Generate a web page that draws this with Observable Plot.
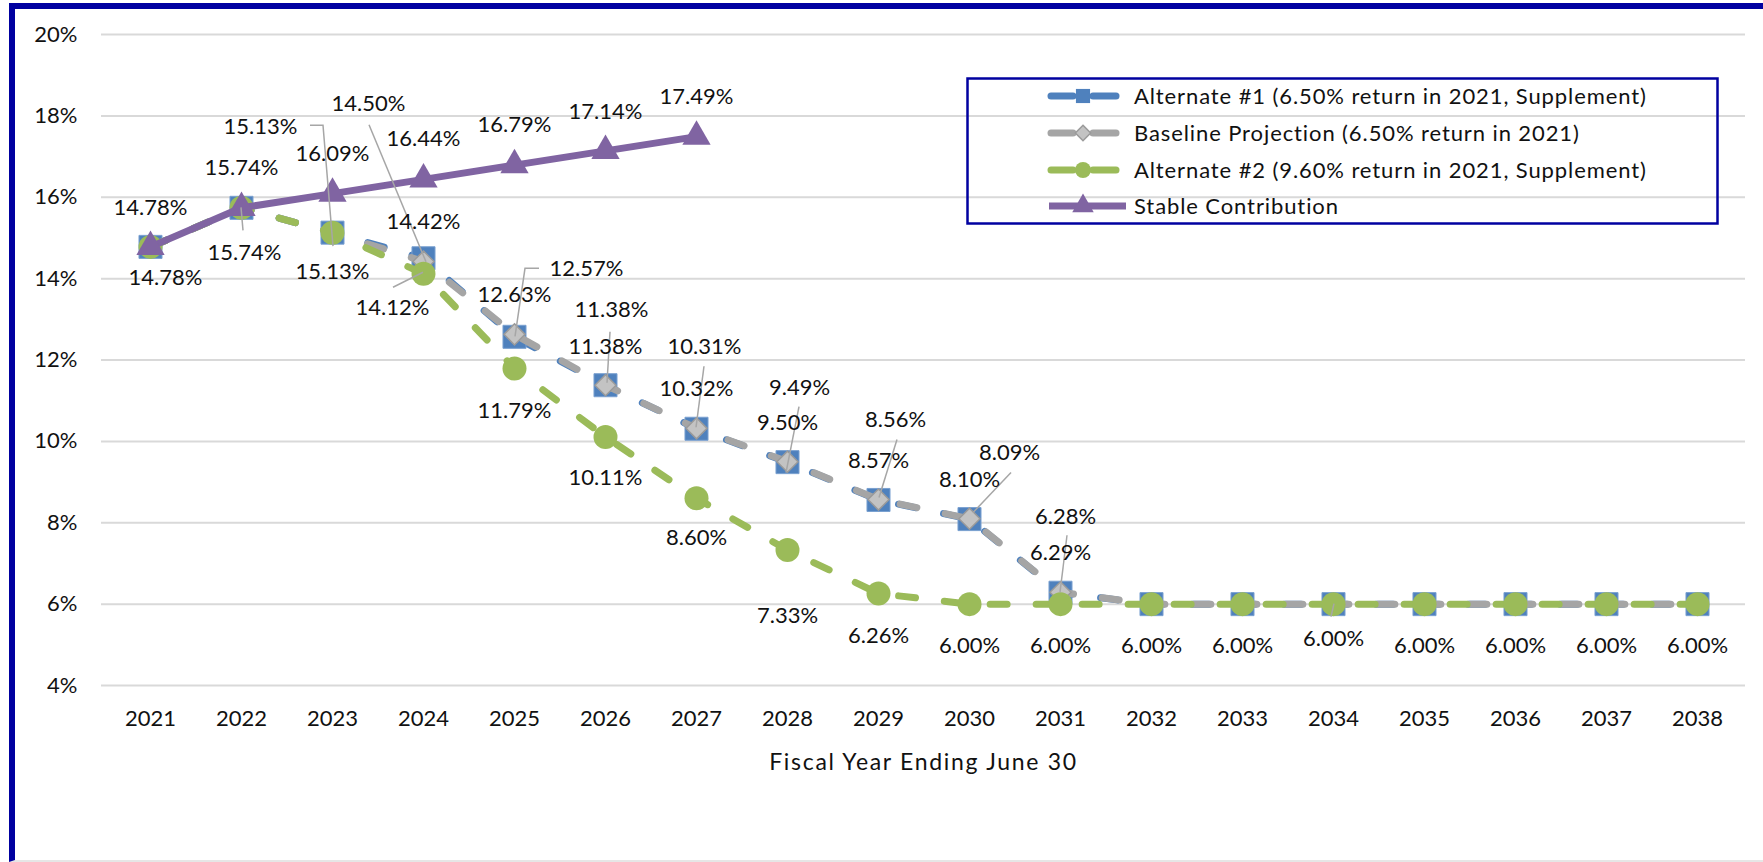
<!DOCTYPE html>
<html>
<head>
<meta charset="utf-8">
<script src="https://cdn.jsdelivr.net/npm/d3@7"></script>
<script src="https://cdn.jsdelivr.net/npm/@observablehq/plot@0.6"></script>
<style>
html, body { margin: 0; padding: 0; background: #fff; }
#wrap { position: relative; width: 1763px; height: 862px; overflow: hidden; font-family: Lato, sans-serif; }
#chart { position: absolute; left: 0; top: 0; }
#frame { position: absolute; left: 9px; top: 3px; right: 0; bottom: 0; box-sizing: border-box;
  border-top: 6px solid #0000a0; border-left: 6px solid #0000a0; border-bottom: 2px solid #e6e6e6; pointer-events: none; }
#legend { position: absolute; left: 966px; top: 77px; }
</style>
</head>
<body>
<div id="wrap">
  <div id="chart"></div>
  <div id="frame"></div>
  <svg id="legend" width="754" height="150"></svg>
</div>
<script>
// ---------- data ----------
const years = [2021, 2022, 2023, 2024, 2025, 2026, 2027, 2028, 2029, 2030, 2031, 2032, 2033, 2034, 2035, 2036, 2037, 2038];
const alt1 = [14.78, 15.74, 15.13, 14.50, 12.57, 11.38, 10.31, 9.49, 8.56, 8.09, 6.28, 6.00, 6.00, 6.00, 6.00, 6.00, 6.00, 6.00];
const baseline = [14.78, 15.74, 15.13, 14.42, 12.63, 11.38, 10.32, 9.50, 8.57, 8.10, 6.29, 6.00, 6.00, 6.00, 6.00, 6.00, 6.00, 6.00];
const alt2 = [14.78, 15.74, 15.13, 14.12, 11.79, 10.11, 8.60, 7.33, 6.26, 6.00, 6.00, 6.00, 6.00, 6.00, 6.00, 6.00, 6.00, 6.00];
const stable = [14.78, 15.74, 16.09, 16.44, 16.79, 17.14, 17.49];
const seriesNames = [
  "Alternate #1 (6.50% return in 2021, Supplement)",
  "Baseline Projection (6.50% return in 2021)",
  "Alternate #2 (9.60% return in 2021, Supplement)",
  "Stable Contribution"
];
const yTicks = [4, 6, 8, 10, 12, 14, 16, 18, 20];
const xTitle = "Fiscal Year Ending June 30";

// ---------- styling / layout ----------
const colors = { alt1: "#4F81BD", baseline: "#A5A5A5", alt2: "#9BBB59", stable: "#8064A2" };
const keys = ["alt1", "baseline", "alt2", "stable"];
const valuesByKey = { alt1, baseline, alt2, stable };

// label placement (pixel offsets of the label centre from its point; leader = polyline offsets)
const labelLayout = {
  stable: { 2021: [0, -39], 2022: [0, -40], 2023: [0, -40], 2024: [0, -40], 2025: [0, -40], 2026: [0, -39], 2027: [0, -40] },
  baseline: { 2024: [0, -40], 2025: [0, -39], 2026: [0, -38], 2027: [0, -39], 2028: [0, -39], 2029: [0, -39], 2030: [0, -39], 2031: [0, -39] },
  alt1: {
    2023: [-72, -106, [[-22, -107], [-9, -107], [1, 14]]],
    2024: [-55, -154, [[-54, -133], [3, 4]]],
    2025: [72, -68, [[25, -68], [11, -68], [1, 0]]],
    2026: [6, -75, [[5, -53], [2, -2]]],
    2027: [8, -82, [[8, -62], [0, -1]]],
    2028: [12, -74, [[12, -55], [-1, 11]]],
    2029: [17, -80, [[19, -60], [1, -2]]],
    2030: [40, -66, [[42, -46], [4, -6]]],
    2031: [5, -76, [[7, -57], [0, 0]]]
  },
  alt2: {
    2021: [15, 31],
    2022: [3, 45, [[2, 23], [0, 0]]],
    2023: [0, 39],
    2024: [-31, 34, [[-30, 14], [0, -1]]],
    2025: [0, 42], 2026: [0, 41], 2027: [0, 40], 2028: [0, 66], 2029: [0, 42],
    2030: [0, 42], 2031: [0, 42], 2032: [0, 42], 2033: [0, 42],
    2034: [0, 35, [[-2, 13], [1, 0]]],
    2035: [0, 42], 2036: [0, 42], 2037: [0, 42], 2038: [0, 42]
  }
};

const rows = {};
for (const k of keys) rows[k] = valuesByKey[k].map((v, i) => ({ year: years[i], value: v }));

const labels = [];
for (const k of keys) {
  for (const [yr, spec] of Object.entries(labelLayout[k])) {
    const i = years.indexOf(+yr);
    const v = valuesByKey[k][i];
    labels.push({ year: +yr, value: v, text: v.toFixed(2) + "%", dx: spec[0], dy: spec[1], leader: spec[2] });
  }
}
const leaders = labels.filter(d => d.leader);

const dash = "17 29";
const lineW = 7;

const marks = [
  Plot.gridY(yTicks, { stroke: "#d9d9d9", strokeWidth: 2, strokeOpacity: 1 }),
  // Alternate #1
  Plot.line(rows.alt1, { x: "year", y: "value", stroke: colors.alt1, strokeWidth: lineW, strokeDasharray: dash, strokeLinecap: "round", strokeLinejoin: "round" }),
  Plot.dot(rows.alt1, { x: "year", y: "value", symbol: "square", r: 13, fill: colors.alt1, stroke: "#7aa0d0", strokeWidth: 1 }),
  // Baseline
  Plot.line(rows.baseline, { x: "year", y: "value", stroke: colors.baseline, strokeWidth: lineW, strokeDasharray: dash, strokeLinecap: "round", strokeLinejoin: "round" }),
  Plot.dot(rows.baseline, { x: "year", y: "value", symbol: "diamond2", r: 9.5, fill: "#C3C3C3", stroke: "#9a9a9a", strokeWidth: 1.5 }),
  // Alternate #2
  Plot.line(rows.alt2, { x: "year", y: "value", stroke: colors.alt2, strokeWidth: lineW, strokeDasharray: dash, strokeLinecap: "round", strokeLinejoin: "round" }),
  Plot.dot(rows.alt2, { x: "year", y: "value", symbol: "circle", r: 12, fill: colors.alt2, stroke: "none" }),
  // Stable
  Plot.line(rows.stable, { x: "year", y: "value", stroke: colors.stable, strokeWidth: lineW, strokeLinejoin: "round" }),
  Plot.dot(rows.stable, { x: "year", y: "value", symbol: "triangle", r: 10.5, fill: colors.stable, stroke: "none" }),
  // leader lines
  Plot.link(leaders, {
    x1: "year", y1: "value", x2: "year", y2: "value",
    render(index, scales, values) {
      const g = d3.create("svg:g");
      for (const i of index) {
        const d = leaders[i];
        const px = values.x1[i], py = values.y1[i];
        g.append("path")
          .attr("d", d3.line()(d.leader.map(([a, b]) => [px + a, py + b])))
          .attr("fill", "none").attr("stroke", "#a6a6a6").attr("stroke-width", 1.5);
      }
      return g.node();
    }
  }),
  // data labels
  ...labels.map(l => Plot.text([l], { x: "year", y: "value", text: "text", dx: l.dx, dy: l.dy, fill: "#111", fontSize: 22 })),
  // axis title
  Plot.text([xTitle], { frameAnchor: "bottom", dy: 84, fill: "#111", fontSize: 23, render(index, scales, values, dims, ctx, next) {
    const g = next(index, scales, values, dims, ctx);
    d3.select(g).selectAll("text").style("letter-spacing", "1.7px");
    return g;
  } })
];

const chart = Plot.plot({
  width: 1763,
  height: 862,
  marginLeft: 101,
  marginRight: 18,
  marginTop: 34,
  marginBottom: 177,
  style: { fontFamily: "Lato, sans-serif", fontSize: "22px", color: "#111", background: "transparent" },
  x: { type: "point", domain: years, padding: 0.5, tickSize: 0, tickPadding: 25, tickFormat: d => `${d}`, label: null },
  y: { domain: [4, 20], ticks: yTicks, tickSize: 0, tickPadding: 24, tickFormat: d => `${d}%`, label: null },
  marks
});
document.getElementById("chart").appendChild(chart);

// ---------- legend ----------
const lg = d3.select("#legend");
lg.append("rect").attr("x", 1.5).attr("y", 1.5).attr("width", 750).attr("height", 145)
  .attr("fill", "none").attr("stroke", "#0000a0").attr("stroke-width", 2.5);
const rowY = [19, 56, 93, 129];
const sym = { alt1: d3.symbolSquare, baseline: d3.symbolDiamond2, alt2: d3.symbolCircle, stable: d3.symbolTriangle };
const symSize = { alt1: 200, baseline: 150, alt2: 200, stable: 200 };
keys.forEach((k, i) => {
  const y = rowY[i];
  const g = lg.append("g");
  if (k === "stable") {
    g.append("line").attr("x1", 83).attr("x2", 160).attr("y1", y).attr("y2", y)
      .attr("stroke", colors[k]).attr("stroke-width", lineW);
  } else {
    for (const [a, b] of [[85, 107], [127, 150]]) {
      g.append("line").attr("x1", a).attr("x2", b).attr("y1", y).attr("y2", y)
        .attr("stroke", colors[k]).attr("stroke-width", lineW).attr("stroke-linecap", "round");
    }
  }
  g.append("path").attr("d", d3.symbol(sym[k], symSize[k])()).attr("transform", `translate(117,${y})`)
    .attr("fill", k === "baseline" ? "#C3C3C3" : colors[k])
    .attr("stroke", k === "baseline" ? "#9a9a9a" : "none").attr("stroke-width", 1.5);
  g.append("text").attr("x", 168).attr("y", y).attr("dy", "0.35em")
    .attr("font-family", "Lato, sans-serif").attr("font-size", 22).attr("letter-spacing", "0.9px")
    .attr("fill", "#111").text(seriesNames[i]);
});
</script>
</body>
</html>
